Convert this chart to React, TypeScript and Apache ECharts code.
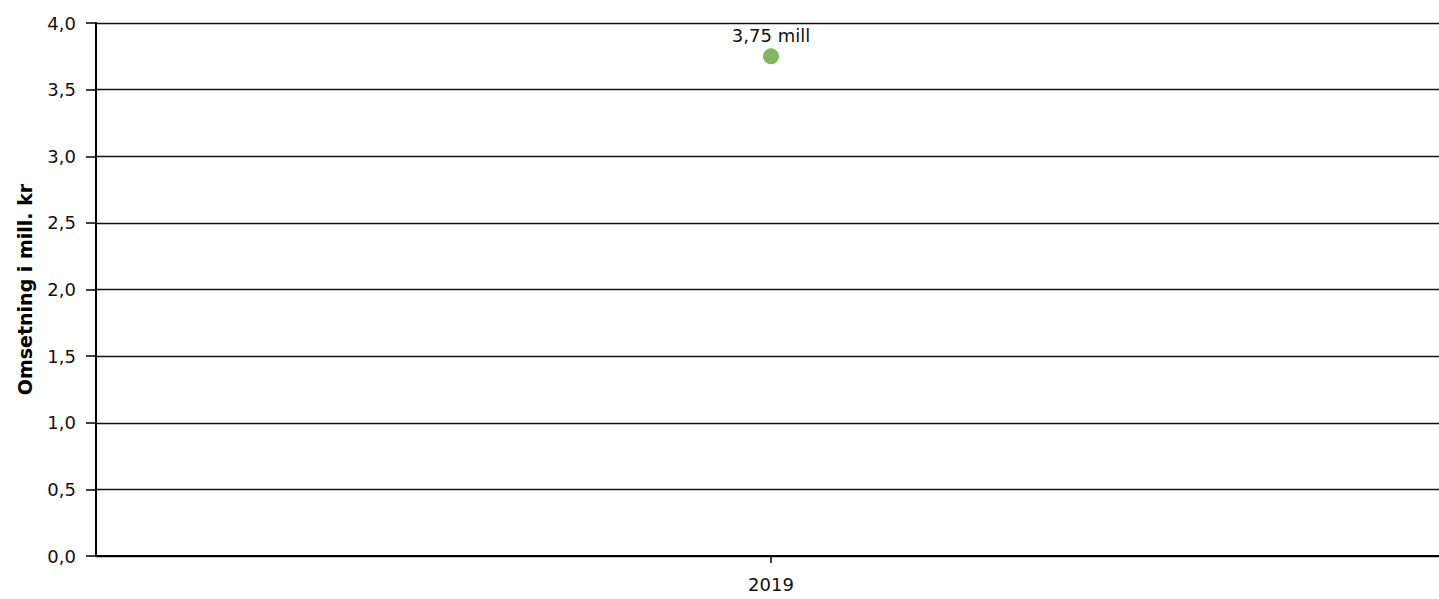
import React, { useEffect, useRef } from "react";
import * as echarts from "echarts";

const categories = ["2019"];
const values = [3.75];
const yTicks = { min: 0, max: 4, interval: 0.5 };
const yAxisName = "Omsetning i mill. kr";
const labelSuffix = " mill";

const FONT = "DejaVu Sans, Verdana, sans-serif";

export default function App() {
  const ref = useRef<HTMLDivElement>(null);
  useEffect(() => {
    if (!ref.current) return;
    const chart = echarts.init(ref.current, undefined, { renderer: "svg" });
    chart.setOption({
      animation: false,
      textStyle: { fontFamily: FONT },
      grid: { left: 96, right: 0, top: 23, bottom: 43, containLabel: false },
      xAxis: {
        type: "category",
        data: categories,
        boundaryGap: true,
        axisLine: { show: true, lineStyle: { color: "#000", width: 2 } },
        axisTick: { show: true, alignWithLabel: true, length: 7, lineStyle: { color: "#000", width: 1.5 } },
        axisLabel: { color: "#111", fontSize: 18, margin: 19, fontFamily: FONT },
        splitLine: { show: false },
      },
      yAxis: {
        type: "value",
        min: yTicks.min,
        max: yTicks.max,
        interval: yTicks.interval,
        name: yAxisName,
        nameLocation: "middle",
        nameGap: 62,
        nameTextStyle: { fontWeight: "bold", fontSize: 19, color: "#000", fontFamily: FONT },
        axisLine: { show: true, lineStyle: { color: "#000", width: 2 } },
        axisTick: { show: true, length: 10, lineStyle: { color: "#000", width: 1.5 } },
        axisLabel: {
          color: "#111",
          fontSize: 18,
          margin: 20,
          fontFamily: FONT,
          formatter: (v: number) => v.toFixed(1).replace(".", ","),
        },
        splitLine: { show: true, lineStyle: { color: "#111", width: 1.3 } },
      },
      series: [
        {
          type: "scatter",
          data: values,
          symbol: "circle",
          symbolSize: 16,
          itemStyle: { color: "#80b760", opacity: 1 },
          label: {
            show: true,
            position: "top",
            distance: 4,
            color: "#111",
            fontSize: 18,
            fontFamily: FONT,
            formatter: (p: any) => String(p.value).replace(".", ",") + labelSuffix,
          },
        },
      ],
    });
    return () => chart.dispose();
  }, []);
  return (
    <div
      ref={ref}
      style={{ position: "fixed", left: 0, top: 0, width: 1446, height: 599, background: "#fff" }}
    />
  );
}
